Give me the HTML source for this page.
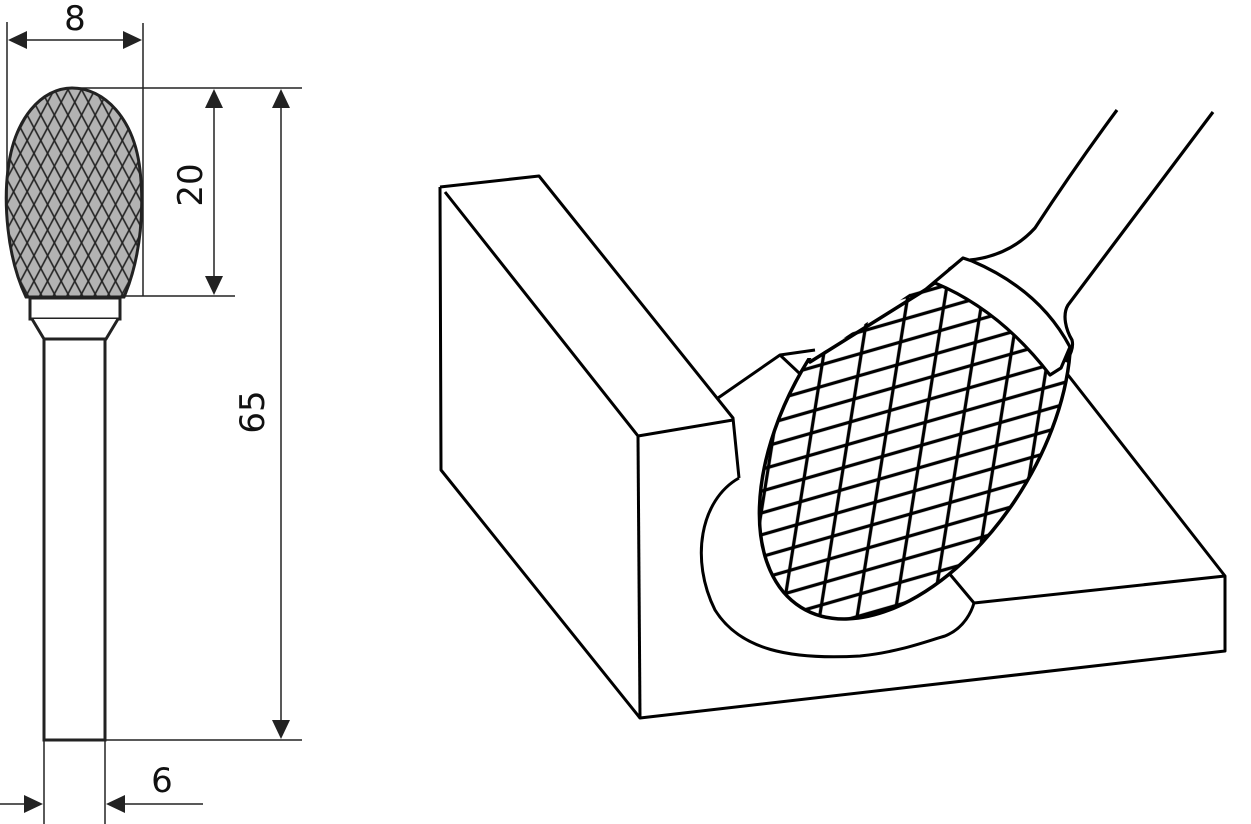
<!DOCTYPE html>
<html><head><meta charset="utf-8"><style>
html,body{margin:0;padding:0;background:#fff;}
svg{display:block;}
text{font-family:"DejaVu Sans","Liberation Sans",sans-serif;fill:#111;}
</style></head><body>
<svg width="1251" height="824" viewBox="0 0 1251 824" xmlns="http://www.w3.org/2000/svg">
<defs>
  <pattern id="pa" width="12" height="12" patternUnits="userSpaceOnUse" patternTransform="rotate(62)">
    <line x1="0" y1="6" x2="12" y2="6" stroke="#222" stroke-width="1.6"/>
  </pattern>
  <pattern id="pb" width="12" height="12" patternUnits="userSpaceOnUse" patternTransform="rotate(-62)">
    <line x1="0" y1="6" x2="12" y2="6" stroke="#222" stroke-width="1.6"/>
  </pattern>
  <pattern id="pc" width="40" height="21" patternUnits="userSpaceOnUse" patternTransform="rotate(-16)">
    <line x1="0" y1="10" x2="40" y2="10" stroke="#000" stroke-width="3.2"/>
  </pattern>
  <pattern id="pd" width="36" height="37" patternUnits="userSpaceOnUse" patternTransform="rotate(-81)">
    <line x1="0" y1="18" x2="36" y2="18" stroke="#000" stroke-width="3.2"/>
  </pattern>
  <clipPath id="egg"><path d="M26,297 C6,255 4,200 8,170 C14,118 42,88 72,88 C104,88 134,118 140,170 C144,205 142,255 124,297 Z"/></clipPath>
  <clipPath id="ell"><ellipse cx="915" cy="425" rx="215" ry="125" transform="rotate(-58 915 425)"/></clipPath>
</defs>

<!-- LEFT TOOL -->
<g clip-path="url(#egg)">
  <rect x="0" y="80" width="160" height="230" fill="#b3b3b3"/>
  <rect x="0" y="80" width="160" height="230" fill="url(#pa)"/>
  <rect x="0" y="80" width="160" height="230" fill="url(#pb)"/>
</g>
<path d="M26,297 C6,255 4,200 8,170 C14,118 42,88 72,88 C104,88 134,118 140,170 C144,205 142,255 124,297 Z" fill="none" stroke="#222" stroke-width="3"/>
<rect x="30" y="298" width="90" height="21" fill="#fff" stroke="#222" stroke-width="3"/>
<path d="M32,319 L44,339 L106,339 L118,319" fill="#fff" stroke="#222" stroke-width="3"/>
<rect x="44" y="339" width="61" height="401" fill="#fff" stroke="#222" stroke-width="3"/>

<g stroke="#222" stroke-width="1.5" fill="none">
  <line x1="7" y1="22" x2="7" y2="205"/>
  <line x1="143" y1="23" x2="143" y2="296"/>
  <line x1="20" y1="40" x2="130" y2="40"/>
  <line x1="72" y1="88" x2="302" y2="88"/>
  <line x1="125" y1="296" x2="235" y2="296"/>
  <line x1="214" y1="100" x2="214" y2="284"/>
  <line x1="281" y1="100" x2="281" y2="728"/>
  <line x1="105" y1="740" x2="302" y2="740"/>
  <line x1="44" y1="740" x2="44" y2="824"/>
  <line x1="105" y1="740" x2="105" y2="824"/>
  <line x1="0" y1="804" x2="30" y2="804"/>
  <line x1="118" y1="804" x2="203" y2="804"/>
</g>
<g fill="#222">
  <polygon points="8,40 27,31 27,49"/>
  <polygon points="142,40 123,31 123,49"/>
  <polygon points="214,89 205,108 223,108"/>
  <polygon points="214,295 205,276 223,276"/>
  <polygon points="281,89 272,108 290,108"/>
  <polygon points="281,739 272,720 290,720"/>
  <polygon points="43,804 24,795 24,813"/>
  <polygon points="106,804 125,795 125,813"/>
</g>
<text x="75" y="30" font-size="34" text-anchor="middle">8</text>
<text x="0" y="0" font-size="34" text-anchor="middle" transform="translate(202,185) rotate(-90)">20</text>
<text x="0" y="0" font-size="34" text-anchor="middle" transform="translate(264,412) rotate(-90)">65</text>
<text x="162" y="792" font-size="34" text-anchor="middle">6</text>

<!-- RIGHT BLOCK -->
<g stroke="#000" stroke-width="3" fill="none" stroke-linejoin="round">
  <path d="M440,187 L539,176 L733,418 L739,478"/>
  <path d="M440,187 L441,470 L640,718 L1225,651 L1225,576 L1061,366"/>
  <path d="M445,192 L638,436 L733,420"/>
  <path d="M638,436 L640,718"/>
  <path d="M780,355 L815,388"/>
  <path d="M739,478 C700,500 690,560 715,610 C740,650 790,660 860,656 C900,652 930,640 945,636 C965,628 972,610 974,603 L1225,576"/>
  <path d="M938,560 L974,603"/>
</g>

<!-- burr head -->
<ellipse cx="915" cy="425" rx="215" ry="125" transform="rotate(-58 915 425)" fill="#fff"/>
<g clip-path="url(#ell)">
  <rect x="700" y="220" width="420" height="440" fill="url(#pc)"/>
  <rect x="700" y="220" width="420" height="440" fill="url(#pd)"/>
</g>
<ellipse cx="915" cy="425" rx="215" ry="125" transform="rotate(-58 915 425)" fill="none" stroke="#000" stroke-width="3.5"/>
<!-- mask above collar -->
<path d="M814,358 L963,258 L972,261 Q1040,290 1070,347 L1100,350 L1100,190 L798,190 L798,358 Z" fill="#fff"/>
<path d="M810,362 L925,290" stroke="#000" stroke-width="3.5" fill="none" stroke-linecap="round"/>
<path d="M718,398 L780,355 L815,350" stroke="#000" stroke-width="3" fill="none" stroke-linejoin="round"/>

<!-- collar -->
<path d="M925,290 L963,258 L972,261 Q1040,290 1070,347 L1061,368 L1050,375 Q1000,310 935,283 Z" fill="#fff" stroke="#000" stroke-width="3.2" stroke-linejoin="round"/>
<!-- shank -->
<g stroke="#000" stroke-width="3.2" fill="none">
  <path d="M970,260 C990,258 1015,250 1035,228 C1050,205 1080,160 1117,110"/>
  <path d="M1213,112 L1068,305 C1062,315 1066,330 1072,340 C1074,348 1070,355 1066,362"/>
</g>
</svg>
</body></html>
